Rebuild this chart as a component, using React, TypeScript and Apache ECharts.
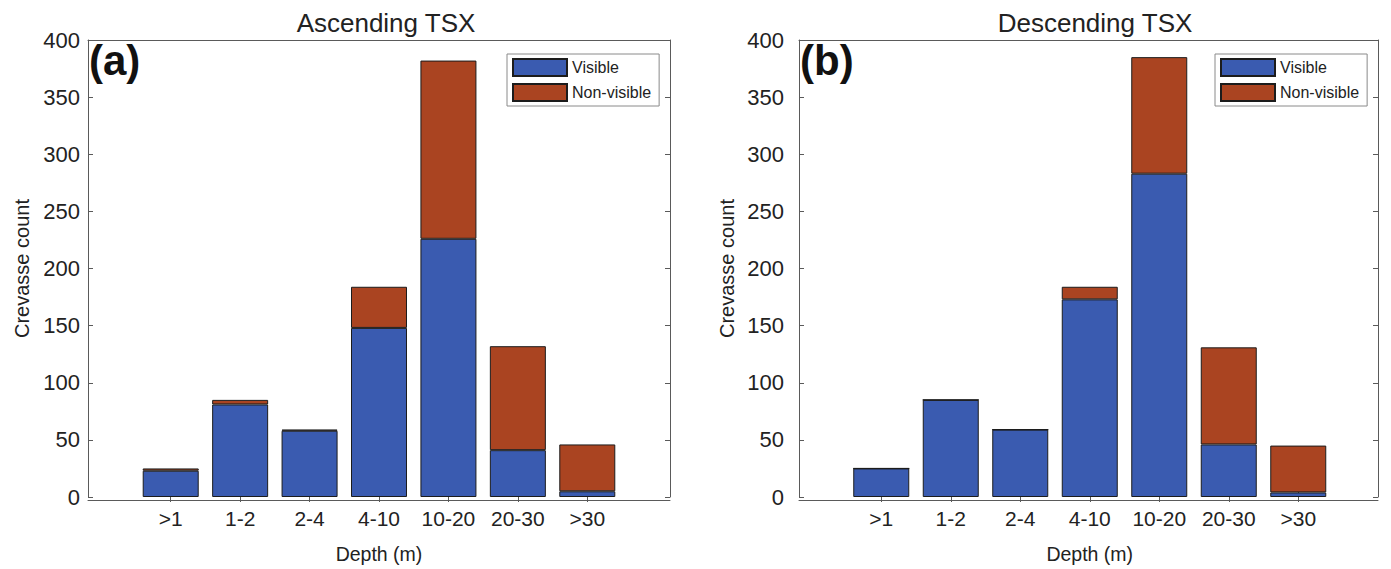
import React, { useEffect, useRef } from "react";
import * as echarts from "echarts";

const categories = [">1", "1-2", "2-4", "4-10", "10-20", "20-30", ">30"];
const ascVisible = [23, 81, 58, 148, 226, 41, 5];
const ascNonVisible = [2, 4, 1, 36, 156, 91, 41];
const descVisible = [25, 85, 59, 173, 283, 46, 4];
const descNonVisible = [0, 0, 0, 11, 102, 85, 41];
const yTicks = { min: 0, max: 400, interval: 50 };
const titles = ["Ascending TSX", "Descending TSX"];
const panelLabels = ["(a)", "(b)"];

const FONT = "'Liberation Sans', Arial, Helvetica, sans-serif";
const BLUE = "#3A5BB0";
const ORANGE = "#AA4421";
const EDGE = "#1c1c1c";
const AXIS = "#5a5a5a";
const TEXT = "#222222";

// panel frames (outer box) and the band of the 7 categories inside them
const panels = [
  { frameLeft: 88, frameRight: 670, innerLeft: 136, innerWidth: 486, titleX: 381, labelMargin: 8, nameGap: 56, legendLeft: 507 },
  { frameLeft: 799, frameRight: 1378, innerLeft: 846.5, innerWidth: 486.5, titleX: 1090, labelMargin: 15, nameGap: 62, legendLeft: 1215 },
];
const TOP = 40;
const HEIGHT = 460;

export default function App() {
  const ref = useRef<HTMLDivElement>(null);
  useEffect(() => {
    if (!ref.current) return;
    const chart = echarts.init(ref.current, null, { renderer: "svg" });
    const grids: any[] = [];
    const xAxes: any[] = [];
    const yAxes: any[] = [];
    const series: any[] = [];
    const data = [
      [ascVisible, ascNonVisible],
      [descVisible, descNonVisible],
    ];
    panels.forEach((p, pi) => {
      const innerGrid = grids.length;
      grids.push({ left: p.innerLeft, top: TOP, width: p.innerWidth, height: HEIGHT });
      const outerGrid = grids.length;
      grids.push({ left: p.frameLeft, top: TOP, width: p.frameRight - p.frameLeft, height: HEIGHT });
      const innerRight = p.innerLeft + p.innerWidth;

      const xBottom = xAxes.length;
      xAxes.push({
        type: "category",
        gridIndex: innerGrid,
        position: "bottom",
        data: categories,
        name: "Depth (m)",
        nameLocation: "middle",
        nameGap: 47,
        nameTextStyle: { fontFamily: FONT, fontSize: 19.5, color: TEXT },
        axisLine: { show: false },
        axisTick: { show: true, inside: true, length: 5, alignWithLabel: true, lineStyle: { color: AXIS } },
        axisLabel: { fontFamily: FONT, fontSize: 21, color: TEXT, margin: 11, interval: 0 },
        splitLine: { show: false },
      });
      xAxes.push({
        type: "category",
        gridIndex: innerGrid,
        position: "top",
        data: categories,
        axisLine: { show: false },
        axisTick: { show: true, inside: true, length: 5, alignWithLabel: true, lineStyle: { color: AXIS } },
        axisLabel: { show: false },
        splitLine: { show: false },
      });
      xAxes.push({
        type: "value",
        gridIndex: outerGrid,
        position: "bottom",
        min: 0,
        max: 1,
        axisLine: { show: true, lineStyle: { color: AXIS, width: 1 } },
        axisTick: { show: false },
        axisLabel: { show: false },
        splitLine: { show: false },
      });
      xAxes.push({
        type: "value",
        gridIndex: outerGrid,
        position: "top",
        min: 0,
        max: 1,
        axisLine: { show: true, lineStyle: { color: AXIS, width: 1 } },
        axisTick: { show: false },
        axisLabel: { show: false },
        splitLine: { show: false },
      });

      const yLeft = yAxes.length;
      yAxes.push({
        type: "value",
        gridIndex: innerGrid,
        position: "left",
        offset: p.innerLeft - p.frameLeft,
        min: yTicks.min,
        max: yTicks.max,
        interval: yTicks.interval,
        name: "Crevasse count",
        nameLocation: "middle",
        nameGap: p.nameGap,
        nameRotate: 90,
        nameTextStyle: { fontFamily: FONT, fontSize: 20, color: TEXT },
        axisLine: { show: true, lineStyle: { color: AXIS, width: 1 } },
        axisTick: { show: true, inside: true, length: 5, lineStyle: { color: AXIS } },
        axisLabel: { fontFamily: FONT, fontSize: 22, color: TEXT, margin: p.labelMargin },
        splitLine: { show: false },
      });
      yAxes.push({
        type: "value",
        gridIndex: innerGrid,
        position: "right",
        offset: p.frameRight - innerRight,
        min: yTicks.min,
        max: yTicks.max,
        interval: yTicks.interval,
        axisLine: { show: true, lineStyle: { color: AXIS, width: 1 } },
        axisTick: { show: true, inside: true, length: 5, lineStyle: { color: AXIS } },
        axisLabel: { show: false },
        splitLine: { show: false },
      });
      yAxes.push({
        type: "value",
        gridIndex: outerGrid,
        min: 0,
        max: 1,
        show: false,
      });

      const [vis, non] = data[pi];
      series.push({
        type: "bar",
        name: "Visible",
        xAxisIndex: xBottom,
        yAxisIndex: yLeft,
        stack: "s" + pi,
        barWidth: 56,
        itemStyle: { color: BLUE, borderColor: EDGE, borderWidth: 1 },
        data: vis,
      });
      series.push({
        type: "bar",
        name: "Non-visible",
        xAxisIndex: xBottom,
        yAxisIndex: yLeft,
        stack: "s" + pi,
        barWidth: 56,
        itemStyle: { color: ORANGE, borderColor: EDGE, borderWidth: 1 },
        data: non,
      });
    });

    const legendBase = {
      orient: "vertical",
      top: 54,
      itemWidth: 54,
      itemHeight: 17,
      itemGap: 6,
      padding: [4, 8, 4, 5],
      borderColor: "#8a8a8a",
      borderWidth: 1,
      backgroundColor: "#ffffff",
      icon: "rect",
      selectedMode: false,
      textStyle: { fontFamily: FONT, fontSize: 16, color: TEXT },
      data: ["Visible", "Non-visible"],
    };

    chart.setOption({
      animation: false,
      backgroundColor: "#ffffff",
      grid: grids,
      xAxis: xAxes,
      yAxis: yAxes,
      title: titles.map((t, i) => ({
        text: t,
        left: panels[i].titleX,
        top: 5,
        textAlign: "center",
        textStyle: { fontFamily: FONT, fontSize: 26, fontWeight: "normal", color: TEXT },
      })),
      legend: panels.map((p) => ({ ...legendBase, left: p.legendLeft })),
      graphic: panelLabels.map((t, i) => ({
        type: "text",
        left: panels[i].frameLeft + 1,
        top: 39,
        style: { text: t, fontFamily: FONT, fontSize: 42, fontWeight: "bold", fill: "#111111" },
      })),
      series,
    });
    return () => chart.dispose();
  }, []);
  return (
    <div
      ref={ref}
      style={{ position: "fixed", left: 0, top: 0, width: 1391, height: 569, background: "#fff" }}
    />
  );
}
